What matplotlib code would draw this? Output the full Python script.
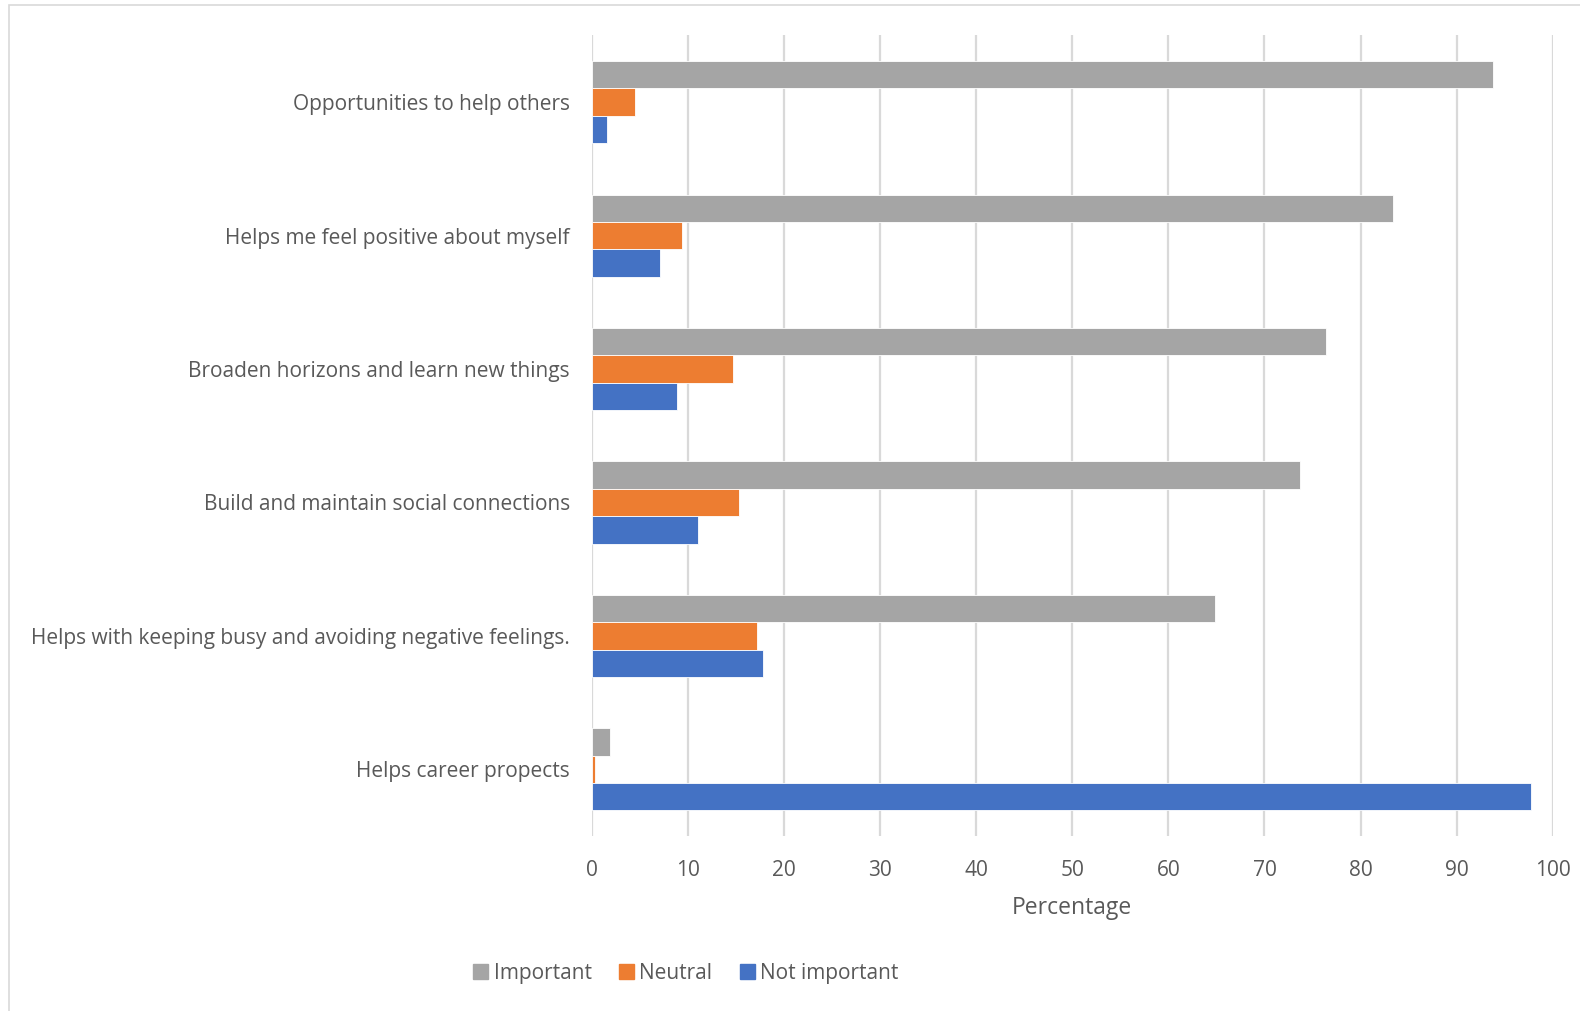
import matplotlib.pyplot as plt
import matplotlib.patches as mpatches
import numpy as np

plt.rcParams['font.family'] = ['Open Sans', 'DejaVu Sans']

# Categories, top to bottom as shown
categories = [
    'Opportunities to help others',
    'Helps me feel positive about myself',
    'Broaden horizons and learn new things',
    'Build and maintain social connections',
    'Helps with keeping busy and avoiding negative feelings.',
    'Helps career propects',
]
important = [93.8, 83.4, 76.4, 73.7, 64.8, 1.9]
neutral = [4.5, 9.4, 14.7, 15.3, 17.2, 0.3]
not_important = [1.6, 7.1, 8.8, 11.0, 17.8, 97.7]

series_names = ['Important', 'Neutral', 'Not important']
colors = ['#a5a5a5', '#ed7d31', '#4472c4']
text_color = '#595959'

fig = plt.figure(figsize=(15.8, 10.11), dpi=100)
ax = fig.add_axes([0.3747, 0.173, 0.608, 0.792])

n = len(categories)
y = np.arange(n)[::-1]  # first category on top
h = 0.205
for i, (vals, col) in enumerate(zip([important, neutral, not_important], colors)):
    ax.barh(y + (1 - i) * h, vals, height=h, color=col,
            edgecolor='white', linewidth=0.6, zorder=3)

ax.set_xlim(0, 100)
ax.set_ylim(-0.5, n - 0.5)
ax.set_xticks(np.arange(0, 101, 10))
ax.set_yticks(y)
ax.set_yticklabels(categories)
ax.tick_params(axis='both', length=0, labelsize=15, colors=text_color)
ax.tick_params(axis='y', pad=16)
ax.tick_params(axis='x', pad=17)
ax.grid(axis='x', color='#d9d9d9', linewidth=1.6, zorder=0)
for s in ax.spines.values():
    s.set_visible(False)
ax.set_xlabel('Percentage', fontsize=16.5, color=text_color, labelpad=11)

handles = [mpatches.Patch(color=c, label=l) for c, l in zip(colors, series_names)]
fig.legend(handles=handles, loc='center', bbox_to_anchor=(0.434, 0.037), ncol=3,
           frameon=False, fontsize=15, handlelength=0.75, handleheight=0.75,
           handletextpad=0.25, columnspacing=1.3, labelcolor=text_color)

# chart area border
fig.patches.append(mpatches.Rectangle((9 / 1580, -0.01), 1.1, 1 - 5 / 1011 + 0.01,
                                      transform=fig.transFigure, fill=False,
                                      edgecolor='#d9d9d9', linewidth=1.2))

fig.savefig('out.png', dpi=100)
